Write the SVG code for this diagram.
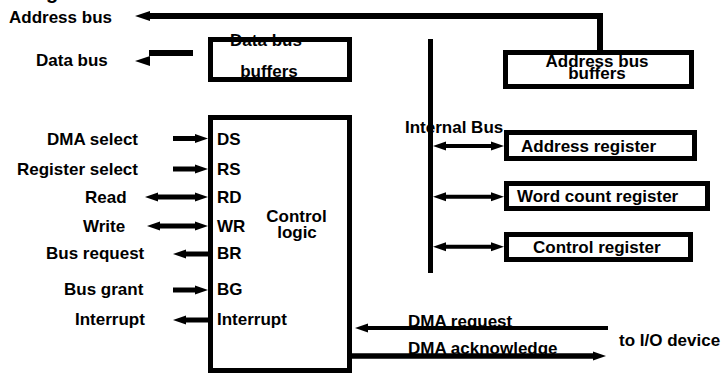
<svg xmlns="http://www.w3.org/2000/svg" width="723" height="374" viewBox="0 0 723 374">
<style>
text{font-family:"Liberation Sans",Arial,Helvetica,sans-serif;font-weight:bold;font-size:17px;fill:#000}
.mid{text-anchor:middle}
.box{fill:none;stroke:#000;stroke-width:5}
.bg{fill:#fff;stroke:none}
.ln{fill:none;stroke:#000;stroke-width:5}
.a1{marker-end:url(#ah)}
.a2{marker-start:url(#ah);marker-end:url(#ah)}
</style>
<defs>
<marker id="ah" markerUnits="userSpaceOnUse" markerWidth="13" markerHeight="9" refX="0" refY="4.5" orient="auto-start-reverse" overflow="visible"><path d="M0,0 L13,4.5 L0,9z" fill="#000"/></marker>
<marker id="ahL" markerUnits="userSpaceOnUse" markerWidth="15" markerHeight="10" refX="0" refY="5" orient="auto" overflow="visible"><path d="M0,0 L15,5 L0,10z" fill="#000"/></marker>
</defs>
<rect width="723" height="374" fill="#fff"/>
<text x="46" y="-1" style="font-size:20px">g</text>
<text x="9" y="23">Address bus</text>
<text x="36" y="66">Data bus</text>

<g id="data-bus-buffers">
<rect class="bg" x="210.5" y="39.5" width="139" height="40"/>
<text class="mid" x="266" y="46">Data bus</text>
<text class="mid" x="269" y="77">buffers</text>
<rect class="box" x="210.5" y="39.5" width="139" height="40"/>
</g>

<g id="address-bus-buffers">
<rect class="bg" x="505.5" y="52.5" width="186" height="34"/>
<text class="mid" x="597" y="67">Address bus</text>
<text class="mid" x="597" y="79">buffers</text>
<rect class="box" x="505.5" y="52.5" width="186" height="34"/>
</g>

<g id="control-logic">
<rect class="box" x="210.5" y="117.5" width="139" height="253"/>
<text x="217" y="145">DS</text>
<text x="217" y="175">RS</text>
<text x="217" y="203">RD</text>
<text x="217" y="232">WR</text>
<text x="217" y="259">BR</text>
<text x="217" y="295">BG</text>
<text x="217" y="325">Interrupt</text>
<text class="mid" x="296.5" y="222">Control</text>
<text class="mid" x="297" y="238">logic</text>
</g>

<g id="address-register">
<rect class="box" x="506.5" y="132.5" width="188" height="26"/>
<text x="521" y="152">Address register</text>
</g>
<g id="word-count-register">
<rect class="box" x="506.5" y="183.5" width="201" height="25"/>
<text x="517" y="202">Word count register</text>
</g>
<g id="control-register">
<rect class="box" x="506.5" y="234.5" width="184" height="25"/>
<text x="533" y="253">Control register</text>
</g>

<g id="labels">
<text x="47" y="145">DMA select</text>
<text x="17" y="175">Register select</text>
<text x="85" y="203">Read</text>
<text x="83" y="232">Write</text>
<text x="46" y="259">Bus request</text>
<text x="64" y="295">Bus grant</text>
<text x="75" y="325">Interrupt</text>
<text x="405" y="133">Internal Bus</text>
<text x="408" y="327">DMA request</text>
<text x="408" y="354">DMA acknowledge</text>
<text x="619" y="346">to I/O device</text>
</g>

<g id="connectors">
<path d="M600,50 V16 H150" style="fill:none;stroke:#000;stroke-width:6;marker-end:url(#ahL)"/>
<path d="M193,53 H149" style="fill:none;stroke:#000;stroke-width:6"/>
<path d="M150,56 L150,66 L135,61z" fill="#000"/>
<path class="ln a1" d="M173,138.5 H195"/>
<path class="ln a1" d="M173,169 H195"/>
<path class="ln a2" d="M158,197 H195"/>
<path class="ln a2" d="M160,226 H195"/>
<path class="ln a1" d="M208,254 H186"/>
<path class="ln a1" d="M173,290 H195"/>
<path class="ln a1" d="M213,320 H186"/>
<path class="ln" d="M430.5,39 V273"/>
<path class="ln a2" style="stroke-width:4" d="M446,146 H491"/>
<path class="ln a2" style="stroke-width:4" d="M446,196.7 H491"/>
<path class="ln a2" style="stroke-width:4" d="M446,246.7 H491"/>
<path class="ln a1" style="stroke-width:4" d="M608,328 H368"/>
<path class="ln a1" style="stroke-width:5.5" d="M352,356 H593"/>
</g>
</svg>
